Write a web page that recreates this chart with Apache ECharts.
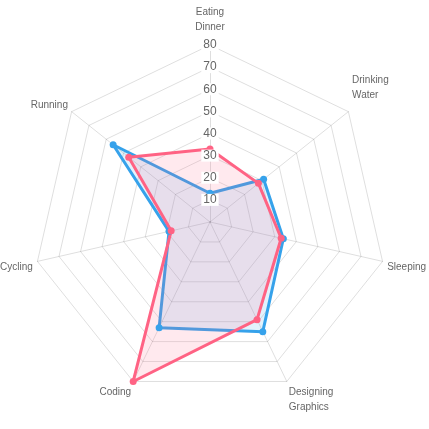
<!DOCTYPE html>
<html><head><meta charset="utf-8">
<script src="https://cdn.jsdelivr.net/npm/echarts@6/dist/echarts.min.js"></script>
<style>html,body{margin:0;padding:0;background:#fff}#c{width:429px;height:429px}</style>
</head><body><div id="c"></div>
<script>
const categories = ['Eating\nDinner', 'Drinking\nWater', 'Sleeping', 'Designing\nGraphics', 'Coding', 'Cycling', 'Running'];
const blueValues = [13, 31, 34, 55, 53, 19, 56];
const redValues = [33, 28, 33, 49, 80, 18, 47];
const maxValue = 80;
const tickStep = 10;

// ECharts radar runs counter-clockwise; reorder so the chart runs clockwise
const order = categories.map((_, i) => (i === 0 ? 0 : categories.length - i));
const cw = arr => order.map(i => arr[i]);

// label placement tweaks (spacer line heights: positive = spacer below, negative = spacer above)
const spacer = [6, 42, -9, -28, -14, -9, 7];

const font = 'Liberation Sans, Arial, Helvetica, sans-serif';
const rich = { t: { color: '#666', fontSize: 10, fontFamily: font, lineHeight: 15 } };
spacer.forEach((s, i) => { rich['s' + i] = { fontSize: 1, lineHeight: Math.abs(s) }; });

const chart = echarts.init(document.getElementById('c'));
chart.setOption({
  animation: false,
  radar: {
    center: [210, 222],
    radius: 177,
    startAngle: 90,
    splitNumber: maxValue / tickStep,
    shape: 'polygon',
    indicator: cw(categories).map(n => ({ name: n, min: 0, max: maxValue })),
    axisName: {
      color: '#666', fontSize: 10, fontFamily: font, lineHeight: 15,
      formatter: function (name) {
        const i = categories.indexOf(name);
        const body = name.split('\n').map(l => '{t|' + l + '}').join('\n');
        const s = spacer[i];
        if (!s) return body;
        return s > 0 ? body + '\n{s' + i + '| }' : '{s' + i + '| }\n' + body;
      },
      rich: rich
    },
    nameGap: 4.7,
    axisLine: { lineStyle: { color: 'rgba(0,0,0,0.13)', width: 1 } },
    splitLine: { lineStyle: { color: 'rgba(0,0,0,0.13)', width: 1 } },
    splitArea: { show: false },
    axisLabel: { show: false },
    axisTick: { show: false }
  },
  polar: { center: [210, 222], radius: 177 },
  angleAxis: { show: false, startAngle: 90, min: 0, max: 360 },
  radiusAxis: {
    min: 0, max: maxValue, interval: tickStep,
    axisLine: { show: false }, axisTick: { show: false }, splitLine: { show: false },
    axisLabel: {
      showMinLabel: false,
      color: '#666', fontSize: 12, fontFamily: font,
      backgroundColor: '#fff', padding: [0, 2],
      align: 'center', verticalAlign: 'middle', margin: 0
    },
    z: 10
  },
  series: [{
    type: 'radar',
    z: 2,
    symbol: 'circle', symbolSize: 7,
    data: [
      {
        value: cw(blueValues),
        lineStyle: { color: 'rgb(54,162,235)', width: 3 },
        itemStyle: { color: 'rgb(54,162,235)' },
        areaStyle: { color: 'rgba(54,162,235,0.2)' }
      },
      {
        value: cw(redValues),
        lineStyle: { color: 'rgb(255,99,132)', width: 3 },
        itemStyle: { color: 'rgb(255,99,132)' },
        areaStyle: { color: 'rgba(255,99,132,0.2)' }
      }
    ]
  }]
});
</script></body></html>
